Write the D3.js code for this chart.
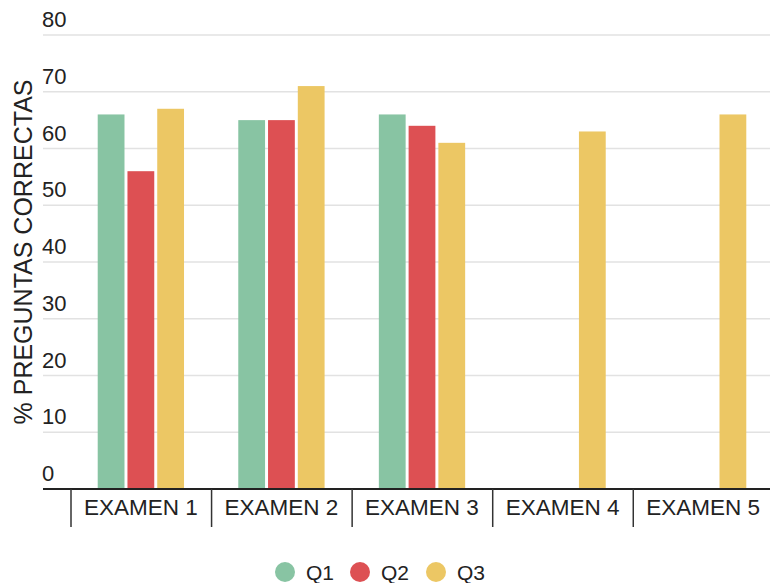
<!DOCTYPE html>
<html>
<head>
<meta charset="utf-8">
<script src="https://cdn.jsdelivr.net/npm/d3@7"></script>
<style>
  body { margin: 0; background: #fff; }
  text { font-family: "Liberation Sans", Arial, sans-serif; fill: #222; }
</style>
</head>
<body>
<script>
// datos del gráfico
var EXAMENES = ["EXAMEN 1", "EXAMEN 2", "EXAMEN 3", "EXAMEN 4", "EXAMEN 5"];
var SERIES = ["Q1", "Q2", "Q3"];
var Q1 = [66, 65, 66, null, null];
var Q2 = [56, 65, 64, null, null];
var Q3 = [67, 71, 61, 63, 66];
var Y_TICKS = [0, 10, 20, 30, 40, 50, 60, 70, 80];

var valores = { Q1: Q1, Q2: Q2, Q3: Q3 };
var color = { Q1: "#88c4a3", Q2: "#dd5053", Q3: "#ecc764" };

var w = 770, h = 583;

var svg = d3.select("body").append("svg").attr("width", w).attr("height", h);

var y = d3.scaleLinear().domain([0, 80]).range([489, 35]);
var x0 = d3.scaleBand().domain(EXAMENES).range([71, 773]).paddingInner(0.386).paddingOuter(0.19);
var x1 = d3.scaleBand().domain(SERIES).range([0, x0.bandwidth()]).paddingInner(0.1);
var step = x0.step();

// líneas de la grilla y etiquetas
var grid = svg.append("g");
grid.selectAll("line").data(Y_TICKS.filter(function (d) { return d > 0; })).enter().append("line")
  .attr("x1", 43).attr("x2", w)
  .attr("y1", function (d) { return y(d); }).attr("y2", function (d) { return y(d); })
  .attr("stroke", "#e2e2e2").attr("stroke-width", 1.5);

grid.selectAll("text").data(Y_TICKS).enter().append("text")
  .attr("x", 42).attr("y", function (d) { return y(d) - 8; })
  .style("font-size", "22px")
  .text(function (d) { return d; });

// barras
var filas = [];
EXAMENES.forEach(function (ex, i) {
  SERIES.forEach(function (s) {
    if (valores[s][i] != null) filas.push({ examen: ex, serie: s, value: valores[s][i] });
  });
});

svg.append("g").selectAll("rect").data(filas).enter().append("rect")
  .attr("x", function (d) { return x0(d.examen) + x1(d.serie); })
  .attr("y", function (d) { return y(d.value); })
  .attr("width", x1.bandwidth())
  .attr("height", function (d) { return y(0) - y(d.value); })
  .attr("fill", function (d) { return color[d.serie]; });

// eje x
svg.append("line").attr("x1", 43).attr("x2", w).attr("y1", y(0)).attr("y2", y(0))
  .attr("stroke", "#222").attr("stroke-width", 2);

var sep = EXAMENES.map(function (d) { return x0(d) - step * 0.19; });
sep.push(x0(EXAMENES[4]) + x0.bandwidth() + step * 0.19);
svg.append("g").selectAll("line").data(sep).enter().append("line")
  .attr("x1", function (d) { return d; }).attr("x2", function (d) { return d; })
  .attr("y1", y(0)).attr("y2", 527)
  .attr("stroke", "#333").attr("stroke-width", 1.5);

svg.append("g").selectAll("text").data(EXAMENES).enter().append("text")
  .attr("x", function (d) { return x0(d) + x0.bandwidth() / 2; })
  .attr("y", 515)
  .attr("text-anchor", "middle")
  .style("font-size", "22.5px")
  .text(function (d) { return d; });

// título del eje y
svg.append("text")
  .attr("transform", "translate(32,252) rotate(-90)")
  .attr("text-anchor", "middle")
  .style("font-size", "25px")
  .text("% PREGUNTAS CORRECTAS");

// leyenda
var legendX = { Q1: 285, Q2: 360, Q3: 436 };
var legend = svg.append("g");
legend.selectAll("circle").data(SERIES).enter().append("circle")
  .attr("cx", function (d) { return legendX[d]; }).attr("cy", 572).attr("r", 10)
  .attr("fill", function (d) { return color[d]; });
legend.selectAll("text").data(SERIES).enter().append("text")
  .attr("x", function (d) { return legendX[d] + 21; }).attr("y", 580)
  .style("font-size", "21px")
  .text(function (d) { return d; });
</script>
</body>
</html>
